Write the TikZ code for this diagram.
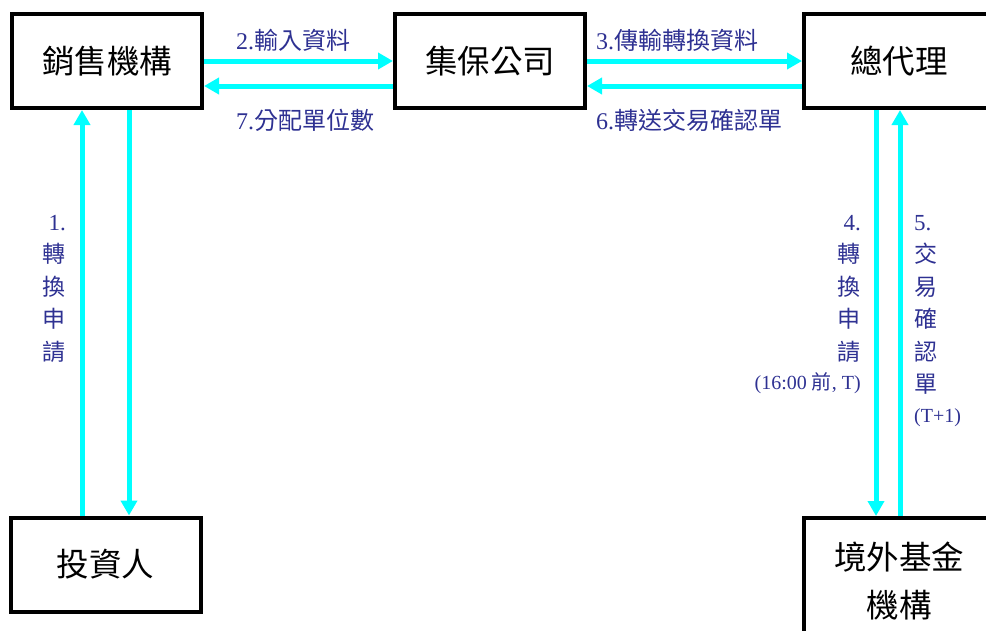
\documentclass[tikz,border=0pt]{standalone}
\usepackage{fontspec}
\setmainfont{Liberation Serif}
\newfontfamily\cjk{Noto Sans CJK TC}
\usetikzlibrary{arrows.meta}
\definecolor{lblue}{RGB}{46,49,146}
\definecolor{flow}{RGB}{0,255,255}
\tikzset{
  box/.style={draw=black, line width=4pt, fill=white, minimum width=190pt, minimum height=94pt, inner sep=0pt, align=center, font=\cjk\fontsize{32.5}{48}\selectfont},
  flowarrow/.style={draw=flow, line width=5pt, -{Triangle[width=16pt,length=15pt]}},
  lbl/.style={text=lblue, inner sep=0pt, font=\fontsize{23}{32.5}\selectfont},
  hlbl/.style={lbl, anchor=west, font=\fontsize{24}{32.5}\selectfont}
}
\newcommand{\parenfont}{\fontsize{20}{32.5}\selectfont}
\begin{document}
\begin{tikzpicture}[x=1pt,y=-1pt]
\useasboundingbox (0,0) rectangle (986,630);
\node[box] (n1) at (107,61) {銷售機構};
\node[box] (n2) at (490,61) {集保公司};
\node[box] (n3) at (899,61) {總代理};
\node[box] (n4) at (105.5,564.5) {投資人};
\node[box, minimum height=126pt] (n5) at (899,581) {境外基金\\機構};

\draw[flowarrow] (n1.east) -- (n2.west);
\draw[flowarrow] ([yshift=-25pt]n2.west) -- ([yshift=-25pt]n1.east);
\draw[flowarrow] (n2.east) -- (n3.west);
\draw[flowarrow] ([yshift=-25pt]n3.west) -- ([yshift=-25pt]n2.east);
\draw[flowarrow] ([xshift=-23.5pt]n4.north) -- ([xshift=-23.5pt]n4.north |- n1.south);
\draw[flowarrow] ([xshift=22pt]n1.south) -- ([xshift=22pt]n1.south |- n4.north);
\draw[flowarrow] ([xshift=-23pt]n3.south) -- ([xshift=-23pt]n3.south |- n5.north);
\draw[flowarrow] ([xshift=1pt]n5.north) -- ([xshift=1pt]n5.north |- n3.south);

\node[hlbl] (l2) at (236,40) {2.{\cjk 輸入資料}};
\node[hlbl] (l7) at (236,120) {7.{\cjk 分配單位數}};
\node[hlbl] (l3) at (596,40) {3.{\cjk 傳輸轉換資料}};
\node[hlbl] (l6) at (596,120) {6.{\cjk 轉送交易確認單}};
\node[lbl, anchor=north east, align=right] (l1) at (66,215) {1.\\{\cjk 轉}\\{\cjk 換}\\{\cjk 申}\\{\cjk 請}};
\node[lbl, anchor=north east, align=right] (l4) at (861,215) {4.\\{\cjk 轉}\\{\cjk 換}\\{\cjk 申}\\{\cjk 請}\\[-3pt]{\parenfont (16:00 {\cjk 前}, T)}};
\node[lbl, anchor=north west, align=left] (l5) at (914,215) {5.\\{\cjk 交}\\{\cjk 易}\\{\cjk 確}\\{\cjk 認}\\{\cjk 單}\\[-3pt]{\parenfont (T+1)}};
\end{tikzpicture}
\end{document}
